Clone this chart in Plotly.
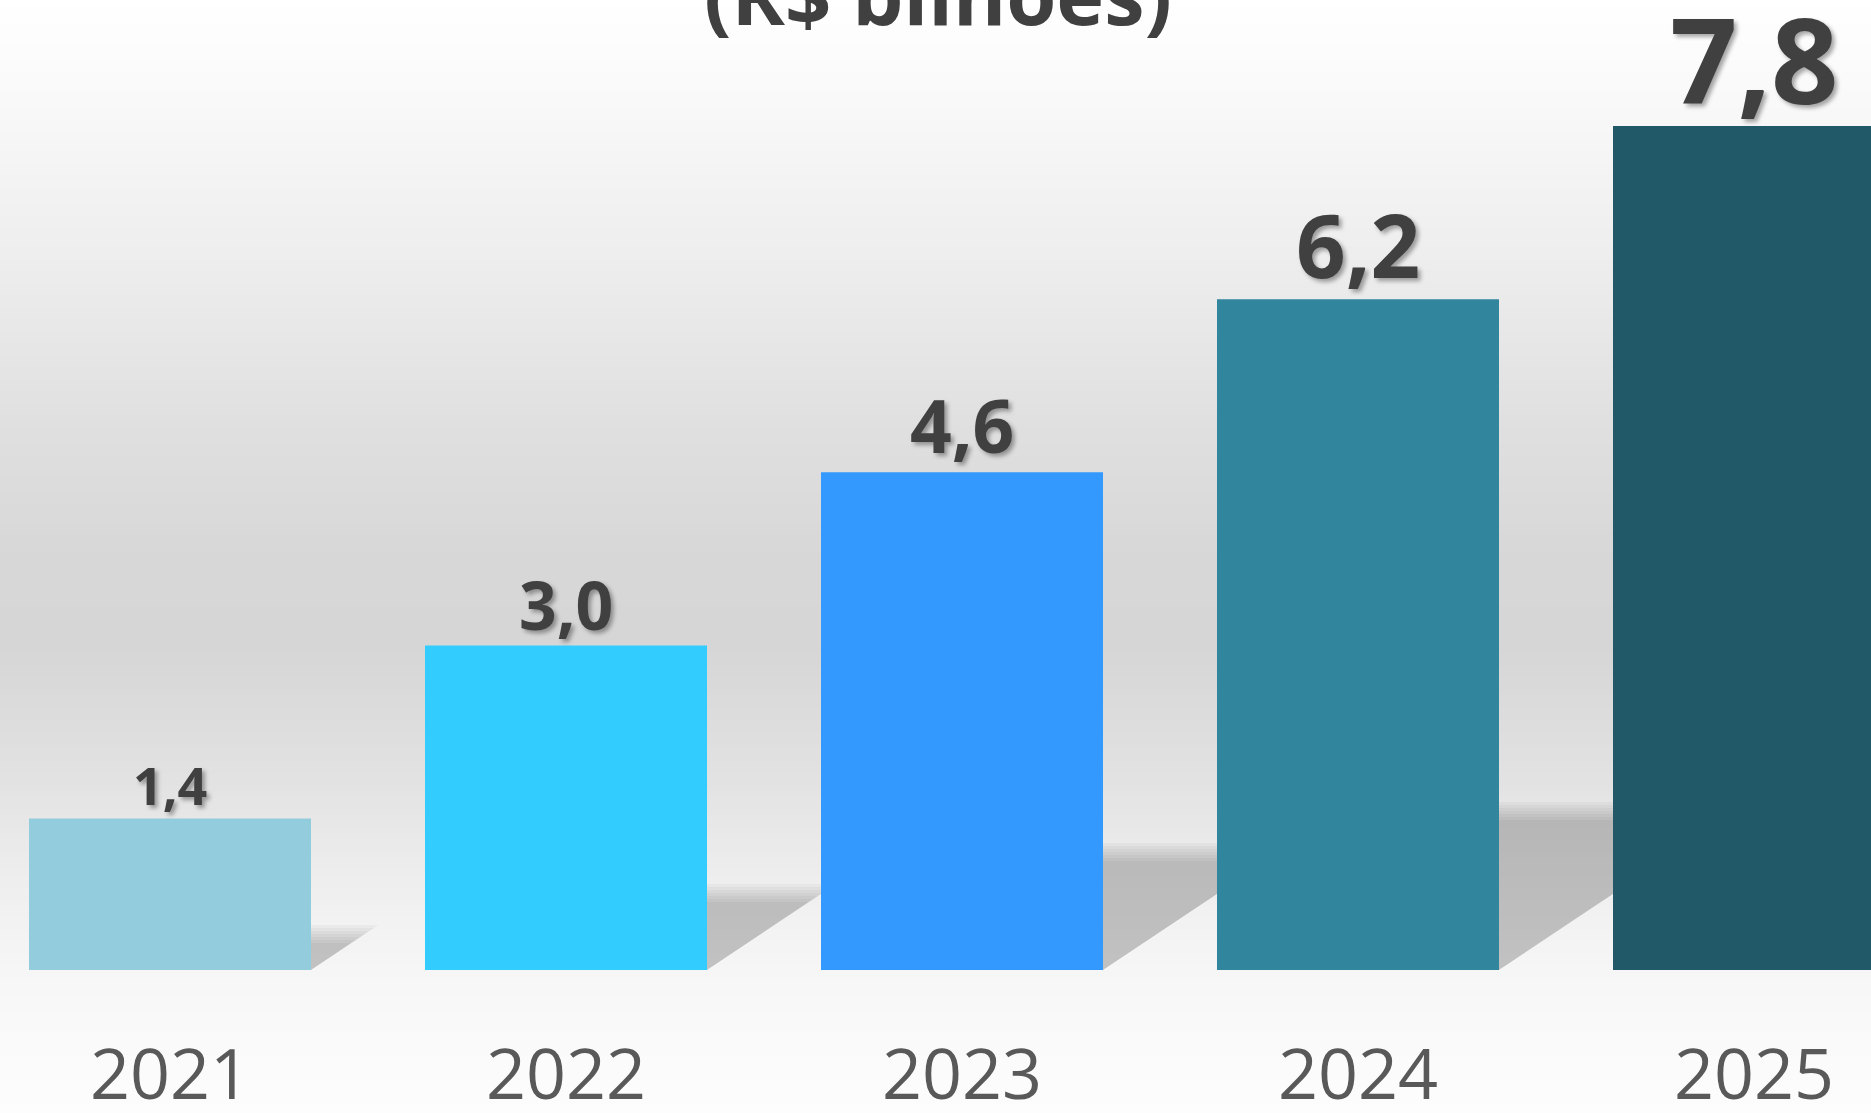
import plotly.graph_objects as go

# ---- data ----
years = ["2021", "2022", "2023", "2024", "2025"]
values = [1.4, 3.0, 4.6, 6.2, 7.8]
label_sizes = [52, 66, 73, 87, 118]
label_gaps = [13, 13, 17, 19, 19]     # px between label baseline and bar top
bar_colors = ["#93CDDD", "#33CCFF", "#3399FF", "#31859C", "#215968"]
title_text = "(R$ bilhões)"

# ---- geometry / style constants ----
W, H = 1871, 1113
PLOT_BOTTOM = 970           # px from top where bars sit
PX_PER_X = 396.0
PX_PER_Y = 108.2
X0 = -170.0 / PX_PER_X
X_RANGE = [X0, X0 + W / PX_PER_X]
Y_RANGE = [0, PLOT_BOTTOM / PX_PER_Y]
BARGAP = 1 - 282.0 / PX_PER_X
BAR_W = 1 - BARGAP

fig = go.Figure()
fig.add_trace(go.Bar(
    x=years, y=values,
    marker=dict(color=bar_colors, line=dict(width=0)),
    hoverinfo="skip",
))
fig.update_xaxes(type="category")

annotations = []
for i, (v, s, g) in enumerate(zip(values, label_sizes, label_gaps)):
    annotations.append(dict(
        x=i, y=v, xref="x", yref="y", text=f"{v:.1f}".replace(".", ","),
        showarrow=False, xanchor="center", yanchor="bottom",
        yshift=-round(0.28 * s + 1 - g),
        font=dict(family="Open Sans", size=s, color="#404040", weight="bold",
                  shadow="3px 3px 4px rgba(0,0,0,0.35)"),
    ))
annotations.append(dict(text=title_text, xref="paper", yref="paper",
                        x=938 / W, y=(PLOT_BOTTOM - 51) / PLOT_BOTTOM,
                        xanchor="center", yanchor="bottom", showarrow=False,
                        font=dict(family="Open Sans", size=81, color="#404040",
                                  weight="bold")))

shapes = []
# background gradient (paper coords), stops given as (px from top, grey level)
stops = [(0, 255), (100, 249), (250, 238), (420, 224), (560, 215), (650, 214),
         (780, 226), (880, 238), (960, 245), (1000, 248), (1113, 253)]
def grey_at(p):
    for (p0, g0), (p1, g1) in zip(stops[:-1], stops[1:]):
        if p0 <= p <= p1:
            t = (p - p0) / (p1 - p0)
            return g0 + t * (g1 - g0)
    return stops[-1][1]
step = 6
for top in range(0, H, step):
    bot = min(top + step + 1, H)
    gv = int(round(grey_at(top + step / 2)))
    shapes.append(dict(type="rect", xref="paper", yref="paper", layer="below",
                       x0=-0.01, x1=1.01,
                       y0=(PLOT_BOTTOM - bot) / PLOT_BOTTOM,
                       y1=(PLOT_BOTTOM - top) / PLOT_BOTTOM,
                       fillcolor=f"rgb({gv},{gv},{gv})", line=dict(width=0)))

# floor shadows derived from bar values (layered to look soft)
SH_RATIO = 0.237
SH_SLANT = 1.5
for i, v in enumerate(values):
    xl, xr = i - BAR_W / 2, i + BAR_W / 2
    for o in [-9, -6, -3, 0, 3, 6, 9]:
        hp = v * PX_PER_Y * SH_RATIO + o
        if hp <= 0:
            continue
        dy = hp / PX_PER_Y
        dx = hp * SH_SLANT / PX_PER_X
        path = (f"M {xl},0 L {xr},0 L {xr + dx},{dy} L {xl + dx},{dy} Z")
        shapes.append(dict(type="path", xref="x", yref="y", layer="below",
                           path=path, fillcolor="rgba(0,0,0,0.031)",
                           line=dict(width=0)))

fig.update_layout(
    width=W, height=H,
    margin=dict(l=0, r=0, t=0, b=H - PLOT_BOTTOM, pad=0, autoexpand=False),
    paper_bgcolor="white",
    plot_bgcolor="rgba(0,0,0,0)",
    bargap=BARGAP,
    showlegend=False,
    shapes=shapes,
    annotations=annotations,
    xaxis=dict(range=X_RANGE, showgrid=False, zeroline=False, showline=False,
               ticks="", ticklabelstandoff=58, automargin=False,
               tickfont=dict(family="Open Sans", size=70, color="#595959")),
    yaxis=dict(range=Y_RANGE, showgrid=False, zeroline=False, showline=False,
               showticklabels=False, ticks="", automargin=False),
)

fig.write_html(
    "out.html",
    config={"displayModeBar": False},
    post_script="document.body.style.margin='0';document.body.style.padding='0';"
                "document.body.style.overflow='hidden';",
)
